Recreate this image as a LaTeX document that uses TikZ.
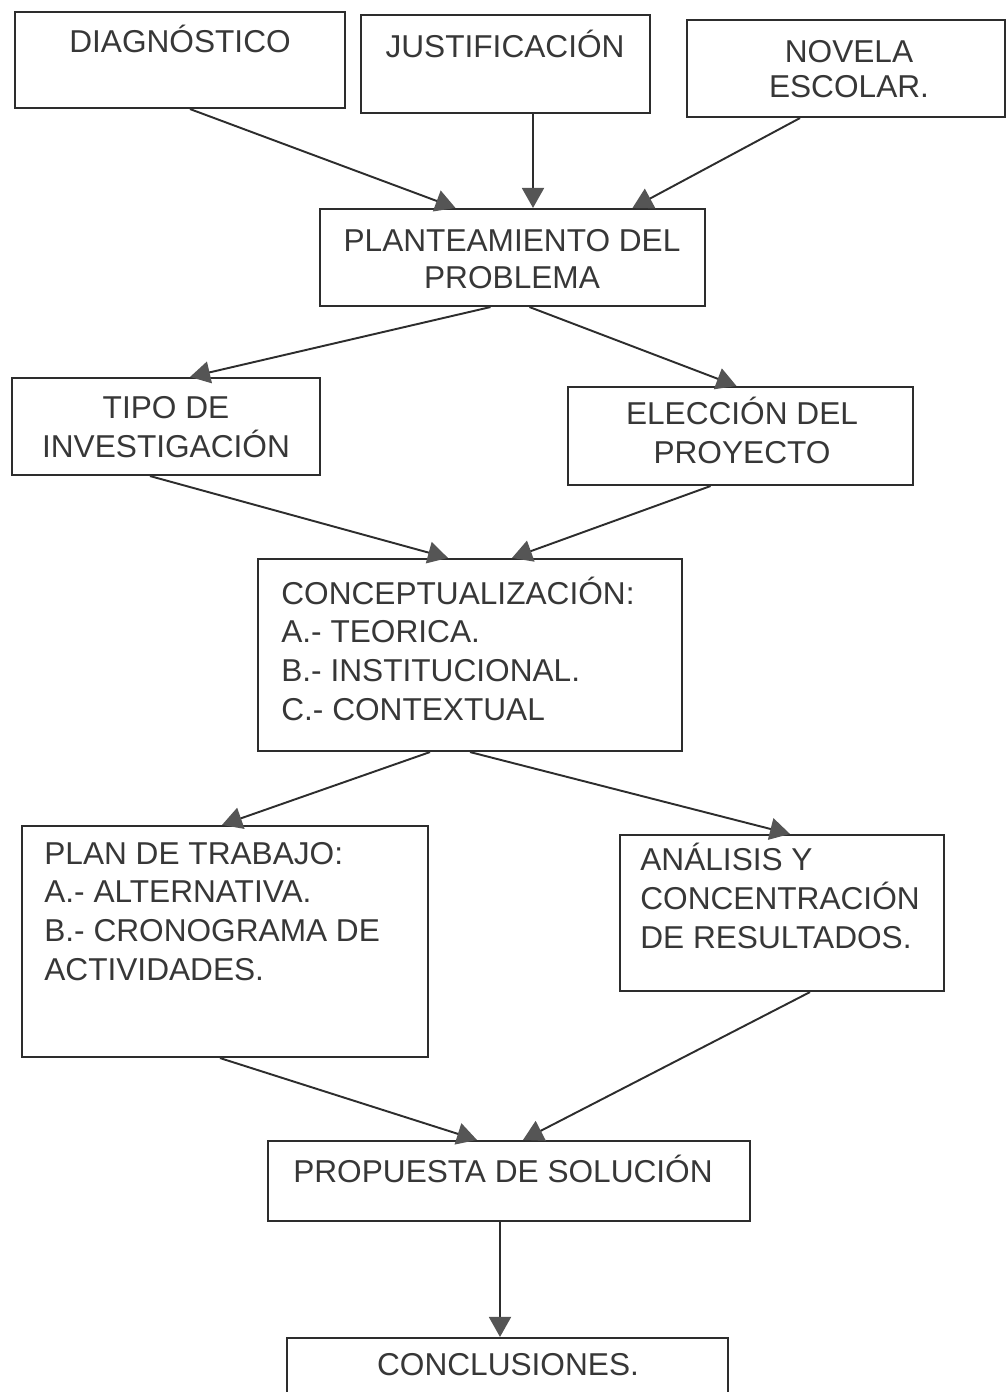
\documentclass[tikz,border=0pt]{standalone}
\usepackage{fontspec}
\setmainfont{Liberation Sans}
\usetikzlibrary{arrows.meta,calc,fit}
\definecolor{BoxBorder}{RGB}{45,45,45}
\definecolor{TextGray}{RGB}{55,55,55}
\definecolor{HeadGray}{RGB}{85,85,85}
\tikzset{
  % Box of one stage
  stage/.style={
    draw=BoxBorder,
    line width=1.2pt,
    inner sep=0pt
  },
  % Text set inside a box
  stagetext/.style={
    text=TextGray,
    font=\fontsize{18}{22}\selectfont,
    inner sep=0pt
  },
  % Connector between stages
  flow/.style={
    draw=BoxBorder,
    line width=1.1pt,
    -{Triangle[length=0.4cm, width=0.44cm, color=HeadGray]}
  }
}
\begin{document}
\begin{tikzpicture}[x=0.02cm, y=-0.02cm]
  \clip (0,0) rectangle (1006,1392);

  % Boxes
  \node[stage, fit={(15,12) (345,108)}]    (diag)  {};
  \node[stage, fit={(361,15) (650,113)}]   (just)  {};
  \node[stage, fit={(687,20) (1005,117)}]  (novel) {};
  \node[stage, fit={(320,209) (705,306)}]  (plant) {};
  \node[stage, fit={(12,378) (320,475)}]   (tipo)  {};
  \node[stage, fit={(568,387) (913,485)}]  (elec)  {};
  \node[stage, fit={(258,559) (682,751)}]  (conc)  {};
  \node[stage, fit={(22,826) (428,1057)}]  (plan)  {};
  \node[stage, fit={(620,835) (944,991)}]  (anal)  {};
  \node[stage, fit={(268,1141) (750,1221)}] (prop) {};
  \node[stage, fit={(287,1338) (728,1430)}] (concl) {};

  % Texts (base = baseline of the last line)
  \node[stagetext, anchor=base] (diagtxt) at (180,53) {DIAGNÓSTICO};
  \node[stagetext, anchor=base] (justtxt) at (505,58) {JUSTIFICACIÓN};
  \node[stagetext, anchor=base, align=center] (noveltxt) at (849,98)
    {NOVELA\\[-2pt]ESCOLAR.};
  \node[stagetext, anchor=base, align=center] (planttxt) at (512,288)
    {PLANTEAMIENTO DEL\\[-1pt]PROBLEMA};
  \node[stagetext, anchor=base, align=center] (tipotxt) at (166,457)
    {TIPO DE\\INVESTIGACIÓN};
  \node[stagetext, anchor=base, align=center] (electxt) at (742,463)
    {ELECCIÓN DEL\\PROYECTO};
  \node[stagetext, anchor=base west, align=left] (conctxt) at (281,720)
    {CONCEPTUALIZACIÓN:\\A.- TEORICA.\\B.- INSTITUCIONAL.\\C.- CONTEXTUAL};
  \node[stagetext, anchor=base west, align=left] (plantxt) at (44,980)
    {PLAN DE TRABAJO:\\A.- ALTERNATIVA.\\B.- CRONOGRAMA DE\\ACTIVIDADES.};
  \node[stagetext, anchor=base west, align=left] (analtxt) at (640,948)
    {ANÁLISIS Y\\CONCENTRACIÓN\\DE RESULTADOS.};
  \node[stagetext, anchor=base] (proptxt) at (503,1182) {PROPUESTA DE SOLUCIÓN};
  \node[stagetext, anchor=base] (concltxt) at (508,1375) {CONCLUSIONES.};

  % Connectors
  \draw[flow] ($(diag.south)+(10,0)$)   -- ($(plant.north)+(-57,0)$);
  \draw[flow] ($(just.south)+(27.5,0)$) -- ($(plant.north)+(20.5,0)$);
  \draw[flow] ($(novel.south)+(-46,0)$) -- ($(plant.north)+(120,0)$);
  \draw[flow] ($(plant.south)+(-22,0)$) -- ($(tipo.north)+(24,0)$);
  \draw[flow] ($(plant.south)+(17,0)$)  -- ($(elec.north)+(-4,0)$);
  \draw[flow] ($(tipo.south)+(-16,0)$)  -- ($(conc.north)+(-22,0)$);
  \draw[flow] ($(elec.south)+(-30,0)$)  -- ($(conc.north)+(42,0)$);
  \draw[flow] ($(conc.south)+(-40,0)$)  -- ($(plan.north)+(-3,0)$);
  \draw[flow] ($(conc.south)+(0,0)$)    -- ($(anal.north)+(8,0)$);
  \draw[flow] ($(plan.south)+(-5,0)$)   -- ($(prop.north)+(-32,0)$);
  \draw[flow] ($(anal.south)+(28,0)$)   -- ($(prop.north)+(14,0)$);
  \draw[flow] ($(prop.south)+(-9,0)$)   -- ($(concl.north)+(-7.5,0)$);
\end{tikzpicture}
\end{document}
